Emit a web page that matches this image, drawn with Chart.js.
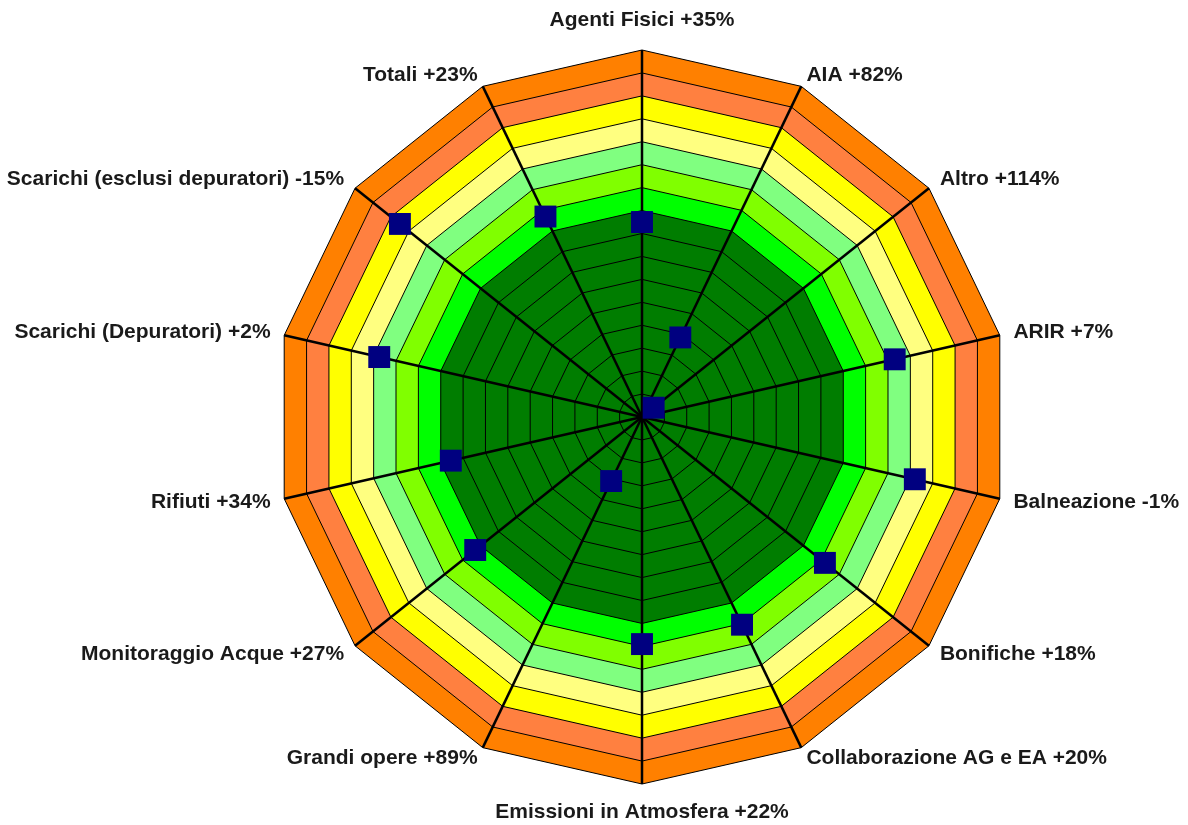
<!DOCTYPE html>
<html><head><meta charset="utf-8">
<script src="https://cdn.jsdelivr.net/npm/chart.js@4.4.1/dist/chart.umd.min.js"></script>
<style>
html,body{margin:0;padding:0;background:#fff;overflow:hidden;width:1188px;height:825px;}
#wrap{position:absolute;left:-28px;top:0;width:1340px;height:825px;}
</style>
</head><body><div id="wrap"><canvas id="c"></canvas></div>
<script>
const categories = ['Agenti Fisici','AIA','Altro','ARIR','Balneazione','Bonifiche','Collaborazione AG e EA','Emissioni in Atmosfera','Grandi opere','Monitoraggio Acque','Rifiuti','Scarichi (Depuratori)','Scarichi (esclusi depuratori)','Totali'];
const changes = ['+35%','+82%','+114%','+7%','-1%','+18%','+20%','+22%','+89%','+27%','+34%','+2%','-15%','+23%'];
const values = [85, 38.5, 6.5, 113, 122, 102, 100.5, 99, 31, 93, 85.5, 117.5, 135, 97];
const bandLevels = [90, 100, 110, 120, 130, 140, 150, 160];
const bandColors = ['#007d00','#00ff00','#80ff00','#80ff80','#ffff80','#ffff00','#ff8040','#ff8000'];
const labelPadding = [30,12,14,14,14,14,12,28,12,14,14,14,14,12];

const labels = categories.map((c, i) => c + ' ' + changes[i]);

const bandDatasets = bandLevels.map((lvl, i) => ({
  data: categories.map(() => lvl),
  fill: 'origin',
  backgroundColor: bandColors[i],
  borderColor: 'rgba(0,0,0,0)',
  borderWidth: 0,
  pointRadius: 0,
  pointHitRadius: 0
}));

new Chart(document.getElementById('c'), {
  type: 'radar',
  data: {
    labels: labels,
    datasets: [{
      data: values,
      showLine: false,
      fill: false,
      pointStyle: 'rect',
      pointRadius: 15.5,
      pointBackgroundColor: '#000080',
      pointBorderColor: '#000080',
      pointBorderWidth: 0,
      borderWidth: 0
    }].concat(bandDatasets)
  },
  options: {
    responsive: true,
    maintainAspectRatio: false,
    animation: false,
    layout: { padding: { left: 0, right: 0, top: 19, bottom: 12 } },
    plugins: {
      legend: { display: false },
      tooltip: { enabled: false },
      filler: { drawTime: 'beforeDraw' }
    },
    scales: {
      r: {
        min: 0,
        max: 160,
        ticks: { display: false, stepSize: 10 },
        grid: { color: '#000', lineWidth: 1 },
        angleLines: { color: '#000', lineWidth: 2.5 },
        pointLabels: {
          padding: (ctx) => labelPadding[ctx.index],
          color: '#1a1a1a',
          font: { family: '"Liberation Sans", Arial, sans-serif', size: 21, weight: 'bold', lineHeight: 0 }
        }
      }
    }
  }
});
</script>
</body></html>
